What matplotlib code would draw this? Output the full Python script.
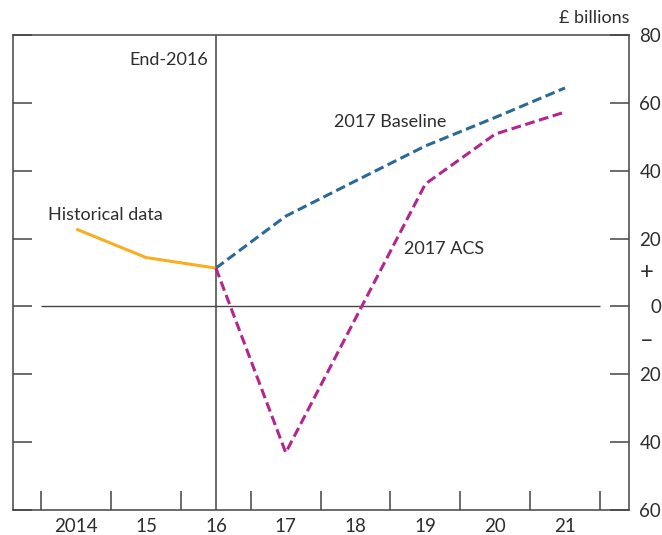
import matplotlib.pyplot as plt
from matplotlib.ticker import FixedLocator

plt.rcParams['font.family'] = ['Lato', 'DejaVu Sans']

# data (£ billions)
hist_years = [2014, 2015, 2016]
hist_vals = [22.8, 14.4, 11.3]
proj_years = [2016, 2017, 2018, 2019, 2020, 2021]
baseline_vals = [11.3, 26.6, 37.0, 47.3, 55.7, 64.4]
acs_vals = [11.3, -43.1, -3.5, 36.1, 50.8, 57.3]

year_ticks = [2014, 2015, 2016, 2017, 2018, 2019, 2020, 2021]
year_labels = ['2014', '15', '16', '17', '18', '19', '20', '21']
y_ticks = [-60, -40, -20, 0, 20, 40, 60, 80]
y_labels = ['60', '40', '20', '0', '20', '40', '60', '80']

ORANGE = '#F9AE22'
BLUE = '#2B6A95'
MAGENTA = '#B3268F'
AXC = '#444444'
TXT = '#2e2e2e'

fig = plt.figure(figsize=(6.62, 5.35), dpi=100)
ax = fig.add_axes([0.0192, 0.0467, 0.9314, 0.8879])

ax.plot(hist_years, hist_vals, color=ORANGE, lw=2.2, solid_capstyle='butt')
ax.plot(proj_years, baseline_vals, color=BLUE, lw=2.2, dashes=(3.2, 1.5))
ax.plot(proj_years, acs_vals, color=MAGENTA, lw=2.2, dashes=(3.2, 1.5))

half_ticks = [y - 0.5 for y in year_ticks] + [year_ticks[-1] + 0.5]
ax.hlines(0, half_ticks[0], half_ticks[-1], color=AXC, lw=1.0, zorder=1)
ax.axvline(2016, color=AXC, lw=1.1, zorder=1)

ax.set_xlim(2013.09, 2021.92)
ax.set_ylim(-60, 80)

ax.xaxis.set_major_locator(FixedLocator(half_ticks))
ax.xaxis.set_minor_locator(FixedLocator(year_ticks))
ax.set_xticklabels([], minor=False)
ax.set_xticklabels(year_labels, minor=True)
ax.tick_params(axis='x', which='major', direction='in', length=13.4, width=1.1,
               color=AXC, labelbottom=False)
ax.tick_params(axis='x', which='minor', length=0, pad=5.5, labelsize=13.5,
               labelcolor=TXT)

ax.set_yticks(y_ticks)
ax.set_yticklabels(y_labels)
ax.tick_params(axis='y', direction='in', length=13.4, width=1.1, color=AXC,
               left=True, right=True, labelleft=False, labelright=True,
               pad=23, labelsize=13.5, labelcolor=TXT)
for t in ax.yaxis.get_major_ticks():
    t.label2.set_horizontalalignment('right')

for s in ax.spines.values():
    s.set_color(AXC)
    s.set_linewidth(1.1)

tr = ax.get_yaxis_transform()
ax.text(1.0165, 10, '+', transform=tr, ha='left', va='center', fontsize=17, color=TXT)
ax.text(1.0165, -10, '\u2013', transform=tr, ha='left', va='center', fontsize=17, color=TXT)

fig.text(0.897, 0.966, '£ billions', ha='center', va='center', fontsize=13, color=TXT)

ax.text(2015.89, 72.7, 'End-2016', ha='right', va='center', fontsize=13, color=TXT)
ax.text(2013.6, 27.0, 'Historical data', ha='left', va='center', fontsize=13, color=TXT)
ax.text(2018.5, 54.4, '2017 Baseline', ha='center', va='center', fontsize=13, color=TXT)
ax.text(2019.27, 16.9, '2017 ACS', ha='center', va='center', fontsize=13, color=TXT)

plt.savefig('out.png', dpi=100)
